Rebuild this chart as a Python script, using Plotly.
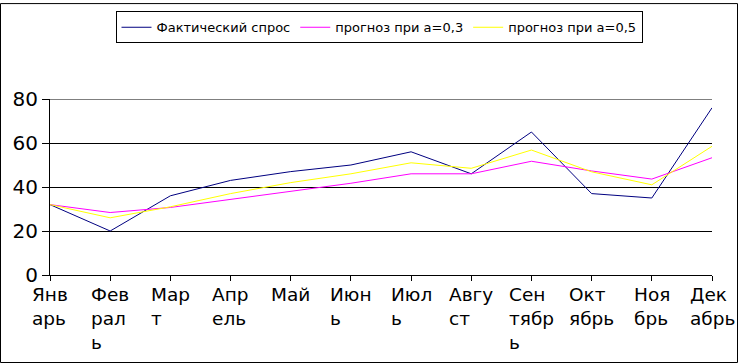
import plotly.graph_objects as go

months = ["Январь", "Февраль", "Март", "Апрель", "Май", "Июнь",
          "Июль", "Август", "Сентябрь", "Октябрь", "Ноябрь", "Декабрь"]
month_labels = ["Янв<br>арь", "Фев<br>рал<br>ь", "Мар<br>т", "Апр<br>ель", "Май",
                "Июн<br>ь", "Июл<br>ь", "Авгу<br>ст", "Сен<br>тябр<br>ь",
                "Окт<br>ябрь", "Ноя<br>брь", "Дек<br>абрь"]
actual = [32, 20, 36, 43, 47, 50, 56, 46, 65, 37, 35, 76]
forecast_03 = [32, 28.4, 30.7, 34.4, 38.2, 41.7, 46.0, 46.0, 51.7, 47.3, 43.6, 53.3]
forecast_05 = [32, 26, 31, 37, 42, 46, 51, 48.5, 56.8, 46.9, 41, 58.5]
y_ticks = [0, 20, 40, 60, 80]

W, H = 738, 364
ML, MR, MT, MB = 50, 26, 97, 89
PW, PH = W - ML - MR, H - MT - MB
FONT = "DejaVu Sans"

fig = go.Figure()
fig.add_trace(go.Scatter(x=months, y=actual, mode="lines", name="Фактический спрос",
                         line=dict(color="#000080", width=1)))
fig.add_trace(go.Scatter(x=months, y=forecast_03, mode="lines", name="прогноз при а=0,3",
                         line=dict(color="#FF00FF", width=1)))
fig.add_trace(go.Scatter(x=months, y=forecast_05, mode="lines", name="прогноз при а=0,5",
                         line=dict(color="#FFFF00", width=1)))

for m, lab in zip(months, month_labels):
    fig.add_annotation(x=m, xref="x", y=0, yref="paper", text=lab, showarrow=False,
                       xanchor="center", yanchor="top", align="left", yshift=-7,
                       font=dict(family=FONT, size=18.5, color="black"))

# top gridline at the maximum of the value axis
fig.add_shape(type="line", xref="paper", yref="y", x0=0, x1=1, y0=y_ticks[-1], y1=y_ticks[-1],
              line=dict(color="black", width=1))

# outer frame of the chart
fig.add_shape(type="rect", xref="paper", yref="paper",
              x0=-(ML - 0.5) / PW, x1=1 + (MR - 0.5) / PW,
              y0=-(MB - 0.5) / PH, y1=1 + (MT - 0.5) / PH,
              line=dict(color="black", width=1), fillcolor="rgba(0,0,0,0)")

fig.update_layout(
    width=W, height=H,
    margin=dict(l=ML, r=MR, t=MT, b=MB, pad=0),
    paper_bgcolor="white", plot_bgcolor="white",
    font=dict(family=FONT, color="black"),
    showlegend=True,
    legend=dict(orientation="h", x=(379 - ML) / PW, xanchor="center",
                y=1 + (MT - 24.5) / PH, yanchor="middle",
                bordercolor="black", borderwidth=1, font=dict(family=FONT, size=13, color="black"),
                itemwidth=30, tracegroupgap=0),
    xaxis=dict(type="category", range=[0, len(months) - 1], showgrid=False,
               showline=True, linecolor="black", linewidth=1,
               ticks="outside", ticklen=5, tickcolor="black", showticklabels=False),
    yaxis=dict(range=[0, 80], tickvals=y_ticks, showgrid=True, gridcolor="black", gridwidth=1,
               showline=True, linecolor="black", linewidth=1, zeroline=False,
               ticks="outside", ticklen=7, tickcolor="black",
               tickfont=dict(family=FONT, size=20, color="black")),
)

fig.write_html("out.html")
